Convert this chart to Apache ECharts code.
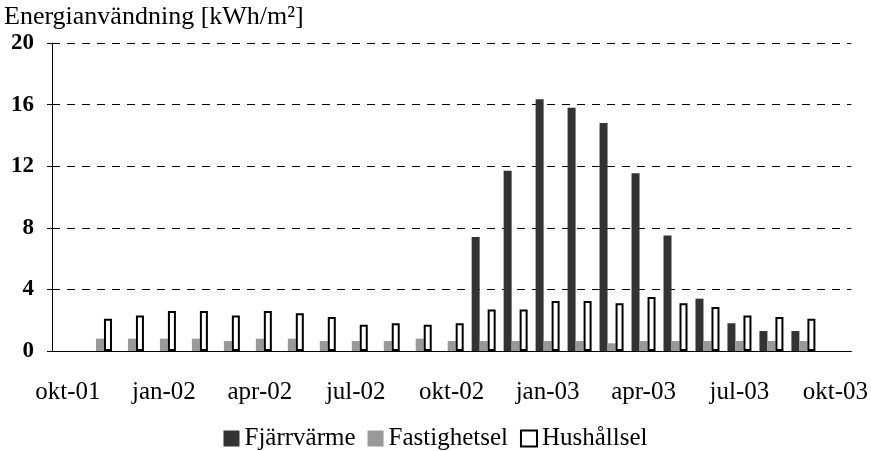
<!DOCTYPE html>
<html>
<head>
<meta charset="utf-8">
<script src="https://cdn.jsdelivr.net/npm/echarts@6/dist/echarts.min.js"></script>
<style>
  html, body { margin: 0; padding: 0; background: #fff; }
  #chart { width: 871px; height: 451px; }
</style>
</head>
<body>
<div id="chart"></div>
<script>
// months okt-01 .. okt-03
const months = [
  'okt-01', 'nov-01', 'dec-01', 'jan-02', 'feb-02', 'mar-02', 'apr-02', 'maj-02', 'jun-02',
  'jul-02', 'aug-02', 'sep-02', 'okt-02', 'nov-02', 'dec-02', 'jan-03', 'feb-03', 'mar-03',
  'apr-03', 'maj-03', 'jun-03', 'jul-03', 'aug-03', 'sep-03', 'okt-03'
];
const fjarrvarme = [
  null, null, null, null, null, null, null, null, null, null, null, null, null,
  7.4, 11.7, 16.35, 15.8, 14.8, 11.55, 7.5, 3.4, 1.8, 1.3, 1.3, null
];
const fastighetsel = [
  null, 0.8, 0.8, 0.8, 0.8, 0.65, 0.8, 0.8, 0.65, 0.65, 0.65, 0.8, 0.65,
  0.65, 0.65, 0.65, 0.65, 0.5, 0.65, 0.65, 0.65, 0.65, 0.65, 0.65, null
];
const hushallsel = [
  null, 2.1, 2.3, 2.6, 2.6, 2.3, 2.6, 2.45, 2.2, 1.7, 1.8, 1.7, 1.8,
  2.7, 2.7, 3.25, 3.25, 3.1, 3.5, 3.1, 2.85, 2.3, 2.2, 2.1, null
];
const yTicks = [0, 4, 8, 12, 16, 20];

const font = 'Liberation Serif';
const chart = echarts.init(document.getElementById('chart'));

const option = {
  animation: false,
  title: {
    text: 'Energianvändning [kWh/m²]',
    left: 4,
    top: 4,
    padding: 0,
    textStyle: { fontFamily: font, fontSize: 26, fontWeight: 'normal', color: '#000' }
  },
  legend: {
    data: ['Fjärrvärme', 'Fastighetsel', 'Hushållsel'],
    top: 421,
    left: 'center',
    itemWidth: 16,
    itemHeight: 16,
    itemGap: 12,
    icon: 'rect',
    textStyle: { fontFamily: font, fontSize: 25, color: '#000' }
  },
  grid: { left: 52, right: 19, top: 43, bottom: 100, containLabel: false },
  xAxis: {
    type: 'category',
    data: months,
    axisLine: { lineStyle: { color: '#000', width: 1 } },
    axisTick: { interval: 2, length: 7, lineStyle: { color: '#555' } },
    axisLabel: {
      interval: 2,
      margin: 29,
      fontFamily: font,
      fontSize: 25,
      color: '#000'
    }
  },
  yAxis: {
    type: 'value',
    min: yTicks[0],
    max: yTicks[yTicks.length - 1],
    interval: 4,
    axisLine: { show: true, lineStyle: { color: '#000', width: 1 } },
    axisTick: { show: true, length: 5, lineStyle: { color: '#000' } },
    axisLabel: {
      margin: 18,
      fontFamily: font,
      fontSize: 23,
      fontWeight: 'bold',
      color: '#000'
    },
    splitLine: { lineStyle: { color: '#000', type: [8, 7], width: 1 } }
  },
  series: [
    {
      name: 'Fjärrvärme',
      type: 'bar',
      data: fjarrvarme,
      barWidth: 8,
      barGap: '0%',
      itemStyle: { color: '#333333' }
    },
    {
      name: 'Fastighetsel',
      type: 'bar',
      data: fastighetsel,
      barWidth: 8,
      barGap: '0%',
      itemStyle: { color: '#999999' }
    },
    {
      name: 'Hushållsel',
      type: 'bar',
      data: hushallsel,
      barWidth: 8,
      barGap: '0%',
      itemStyle: { color: '#ffffff', borderColor: '#000', borderWidth: 2 }
    }
  ]
};

chart.setOption(option);
</script>
</body>
</html>
